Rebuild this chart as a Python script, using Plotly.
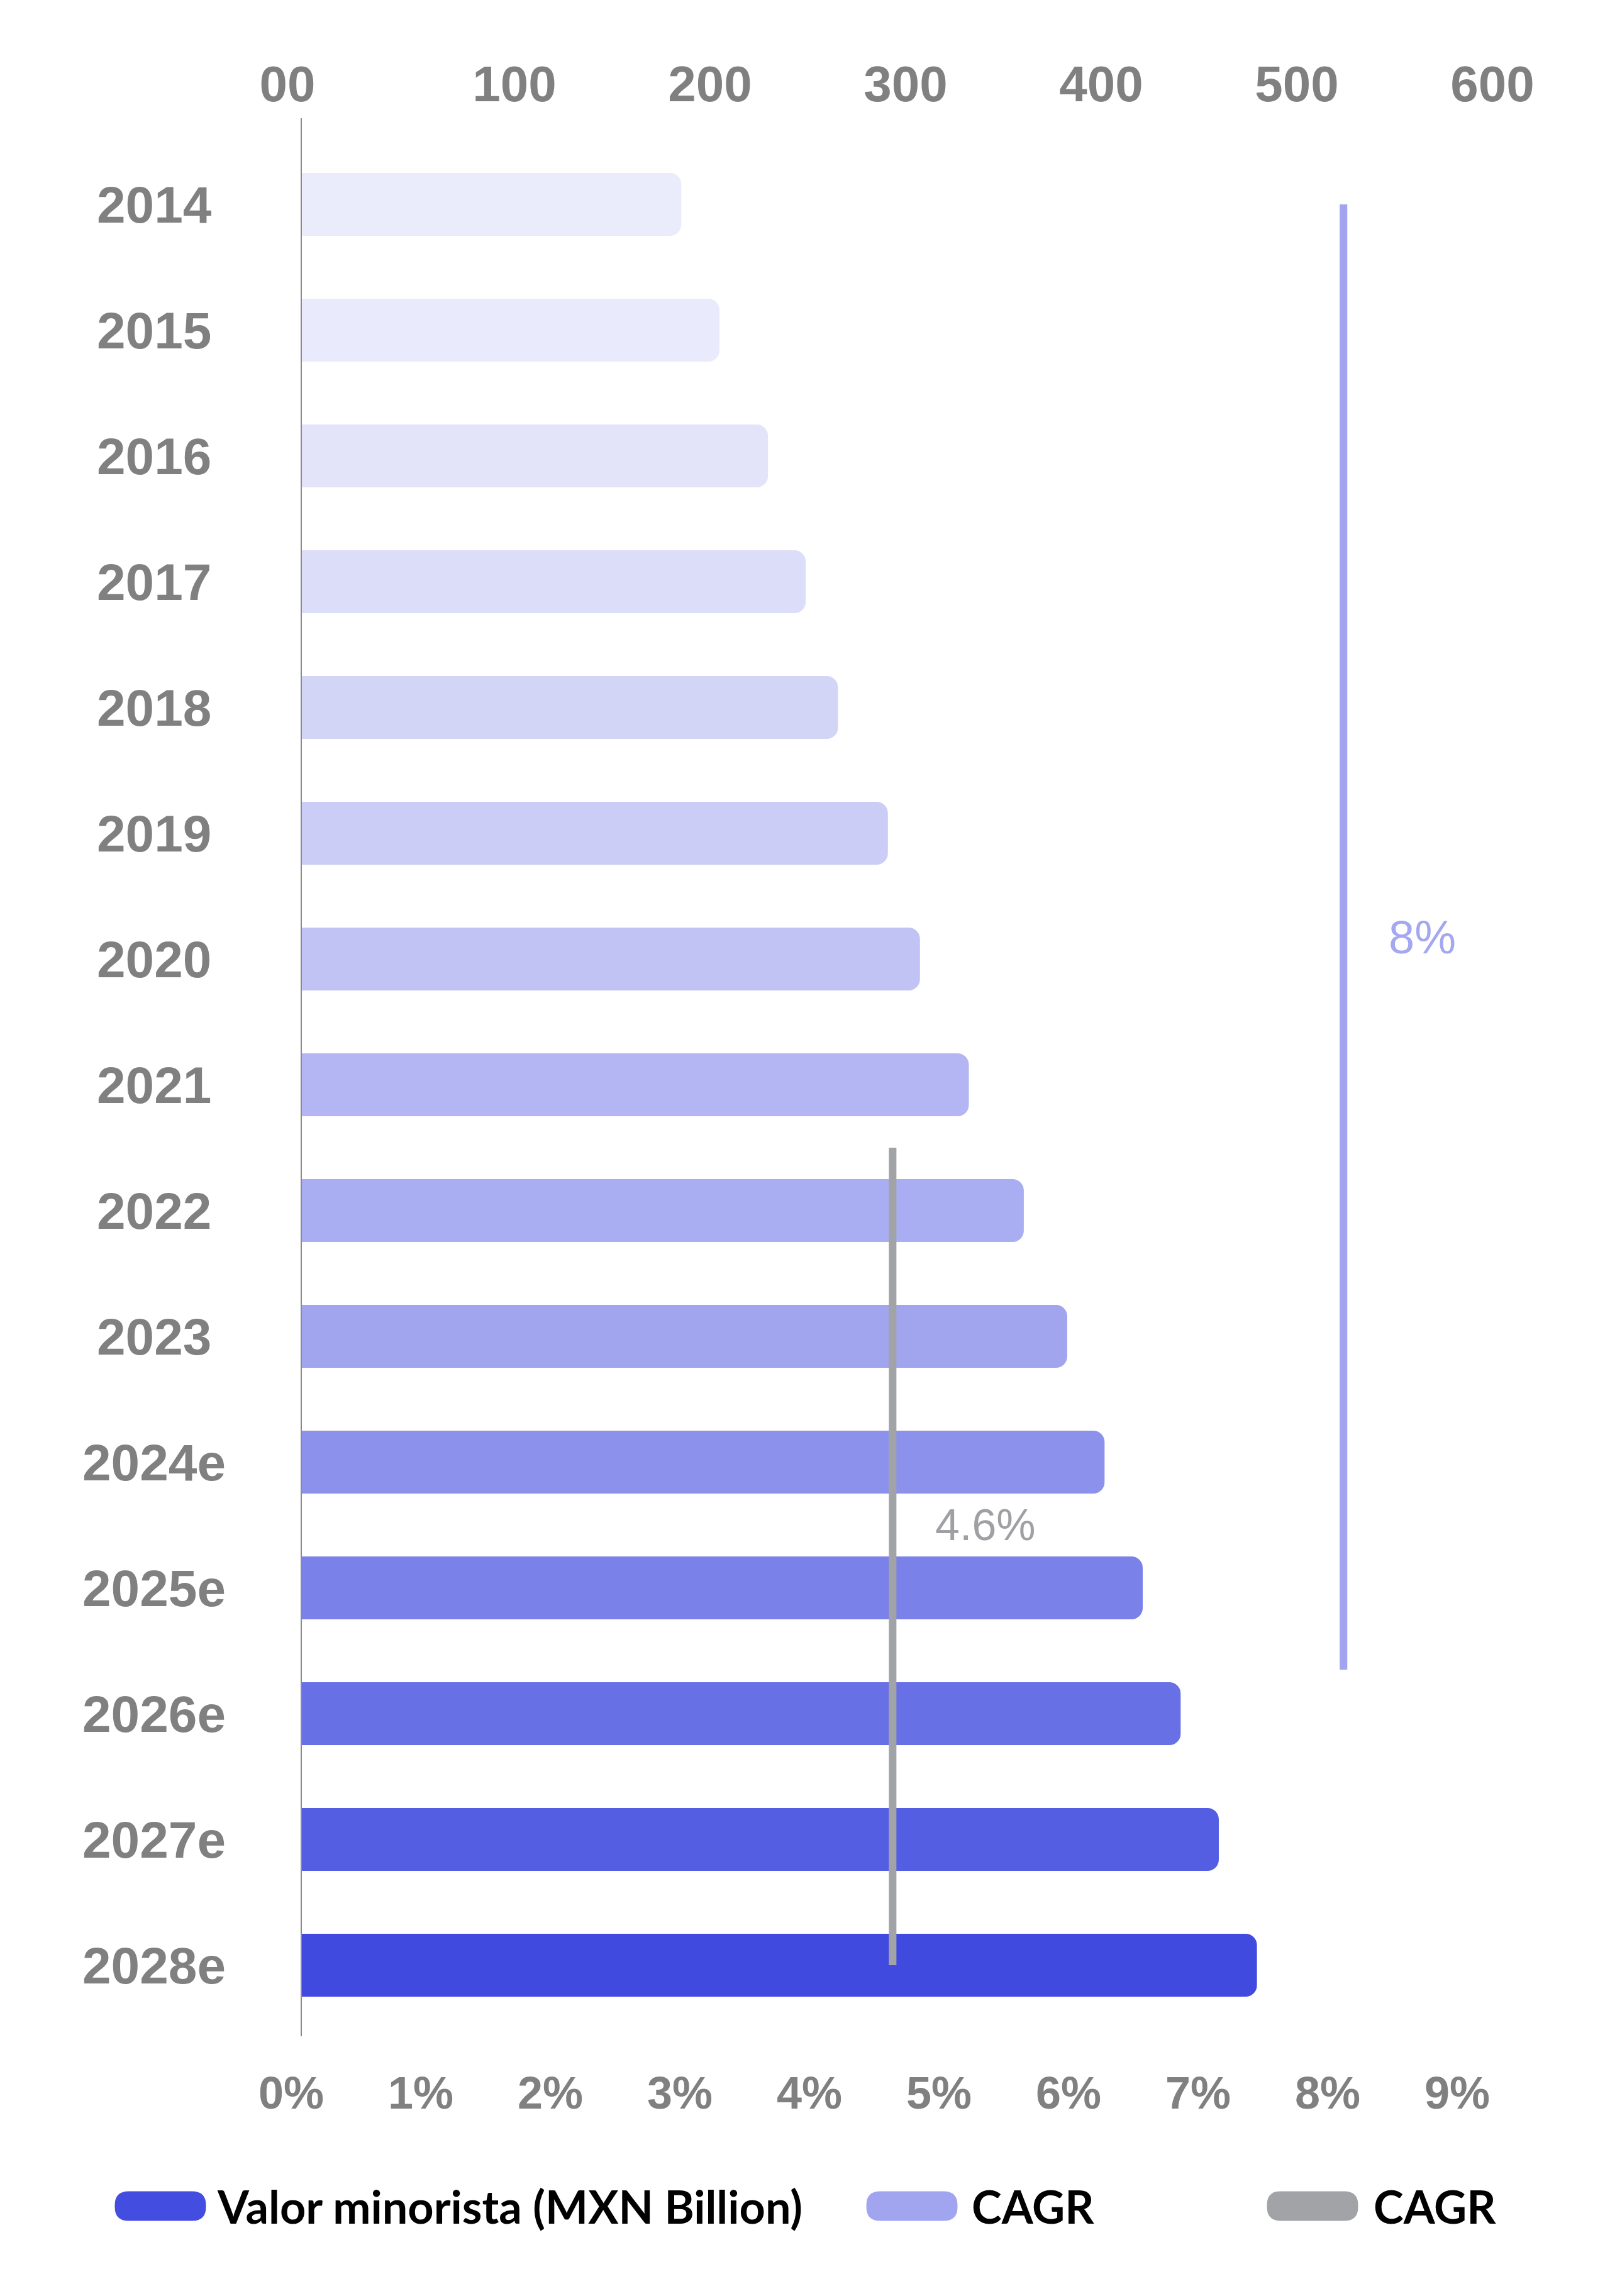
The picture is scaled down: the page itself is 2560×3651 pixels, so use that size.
import plotly.graph_objects as go

# ---------------- data ----------------
years = ["2014", "2015", "2016", "2017", "2018", "2019", "2020", "2021",
         "2022", "2023", "2024e", "2025e", "2026e", "2027e", "2028e"]
retail_value = [194.0, 213.5, 238.3, 257.6, 274.1, 299.6, 316.0, 341.0,
                369.1, 391.3, 410.4, 429.9, 449.3, 468.8, 488.3]
bar_colors = ["#ebecfb", "#e9eafb", "#e3e4f9", "#dcddf8", "#d3d5f7", "#cbcdf6",
              "#c1c3f4", "#b3b6f3", "#a9aef2", "#a1a5ee", "#8c92ec", "#7a81e8",
              "#6870e6", "#545ee3", "#414ade"]

value_ticks = [0, 100, 200, 300, 400, 500, 600]
value_tick_labels = ["00", "100", "200", "300", "400", "500", "600"]
pct_ticks = [0, 1, 2, 3, 4, 5, 6, 7, 8, 9]
pct_tick_labels = ["0%", "1%", "2%", "3%", "4%", "5%", "6%", "7%", "8%", "9%"]

cagr_values = [8.04, 4.56]          # position on the % axis
cagr_labels = ["8%", "4.6%"]
cagr_span_start = [0.0, 7.5]        # category index where each bracket starts
cagr_span_end = [11.65, 14.0]       # category index where each bracket ends
cagr_label_pos = [5.825, 10.5]
cagr_colors = ["#a1a5ef", "#a2a3a7"]
cagr_text_colors = ["#a4a8f0", "#a0a0a4"]

legend_names = ["Valor minorista (MXN Billion)", "CAGR", "CAGR"]
legend_colors = ["#434ddf", "#a1a5ef", "#a2a3a7"]

# ---------------- layout geometry (pixels) ----------------
OFF = 8                       # default page body margin
W, H = 2560 - OFF, 3651 - OFF
PLOT_L, PLOT_T, PW, PH = 480, 188, 1920, 3050   # in reference pixels
ML, MT = PLOT_L - OFF, PLOT_T - OFF
MR = W - ML - PW
MB = H - MT - PH
VALUE_PX = 3.11               # px per unit on value axis
PCT_PX = 206.0                # px per 1% on percent axis


def px_x(px):
    return (px - PLOT_L) / PW


def px_y(py):
    return (PLOT_T + PH - py) / PH


fig = go.Figure()

fig.add_trace(go.Bar(
    y=years, x=retail_value, orientation="h",
    marker=dict(color=bar_colors, line=dict(width=0), cornerradius=18),
    name=legend_names[0], showlegend=False, xaxis="x", yaxis="y",
    hoverinfo="x+y",
))

# invisible traces to activate the extra axes
fig.add_trace(go.Scatter(
    x=cagr_values, y=[years[0], years[-1]], mode="markers",
    marker=dict(opacity=0), showlegend=False, hoverinfo="skip",
    xaxis="x2", yaxis="y",
))
fig.add_trace(go.Scatter(
    x=[value_ticks[0]], y=[years[0]], mode="markers",
    marker=dict(opacity=0), showlegend=False, hoverinfo="skip",
    xaxis="x3", yaxis="y",
))

shapes = []
annotations = []

# CAGR bracket lines
for v, s, e, c in zip(cagr_values, cagr_span_start, cagr_span_end, cagr_colors):
    shapes.append(dict(type="line", xref="x2", yref="y", x0=v, x1=v, y0=s, y1=e,
                       line=dict(color=c, width=12), layer="above"))

label_shift = [70, 66]
label_size = [74, 70]
for v, lbl, pos, c, sh, sz in zip(cagr_values, cagr_labels, cagr_label_pos,
                                  cagr_text_colors, label_shift, label_size):
    annotations.append(dict(xref="x2", yref="y", x=v, y=pos, text=lbl,
                            showarrow=False, xanchor="left", yanchor="middle",
                            xshift=sh,
                            font=dict(family="Liberation Sans", size=sz, color=c)))

# category labels (centered)
for i, yr in enumerate(years):
    annotations.append(dict(xref="paper", yref="y", x=px_x(245), y=i, text=yr,
                            showarrow=False, xanchor="center", yanchor="middle",
                            font=dict(family="Liberation Sans", size=82,
                                      color="#808080", weight="bold")))

# manual legend with pill swatches
pill_centers = [255, 1450, 2087]
text_left = [343, 1543, 2182]
legend_y = 3508
pw, ph, r = 145, 47, 22
hw, hh = pw / 2, ph / 2
pill_path = (f"M{-hw + r},{-hh} L{hw - r},{-hh} Q{hw},{-hh} {hw},{-hh + r} "
             f"L{hw},{hh - r} Q{hw},{hh} {hw - r},{hh} L{-hw + r},{hh} "
             f"Q{-hw},{hh} {-hw},{hh - r} L{-hw},{-hh + r} Q{-hw},{-hh} {-hw + r},{-hh} Z")
for cx, tx, name, col in zip(pill_centers, text_left, legend_names, legend_colors):
    shapes.append(dict(type="path", xref="paper", yref="paper",
                       xsizemode="pixel", ysizemode="pixel",
                       xanchor=px_x(cx), yanchor=px_y(legend_y),
                       path=pill_path, fillcolor=col, line=dict(width=0)))
    annotations.append(dict(xref="paper", yref="paper", x=px_x(tx), y=px_y(legend_y),
                            text=name, showarrow=False, xanchor="left",
                            yanchor="middle",
                            font=dict(family="Lato", size=72, color="#000000",
                                      weight="bold")))

top_font = dict(family="Liberation Sans", size=80, color="#808080", weight="bold")
value_range = [0, PW / VALUE_PX]

fig.update_layout(
    width=W, height=H,
    margin=dict(l=ML, r=MR, t=MT, b=MB, pad=0),
    paper_bgcolor="white", plot_bgcolor="white",
    bargap=0.5,
    showlegend=False,
    xaxis=dict(side="top", range=value_range, tickvals=value_ticks[1:],
               ticktext=value_tick_labels[1:], showgrid=False, zeroline=False,
               showline=False, ticks="", ticklabelshift=27, ticklabelstandoff=10,
               tickfont=top_font, fixedrange=True),
    xaxis3=dict(side="top", overlaying="x", anchor="y", range=value_range,
                tickvals=value_ticks[:1], ticktext=value_tick_labels[:1],
                showgrid=False, zeroline=False, showline=False, ticks="",
                ticklabelshift=-23, ticklabelstandoff=10,
                tickfont=top_font, fixedrange=True),
    xaxis2=dict(side="bottom", overlaying="x", anchor="y",
                range=[0, PW / PCT_PX], tickvals=pct_ticks,
                ticktext=pct_tick_labels, showgrid=False, zeroline=False,
                showline=False, ticks="", ticklabelstandoff=42, ticklabelshift=-17,
                tickfont=dict(family="Liberation Sans", size=72, color="#808080",
                              weight="bold"),
                fixedrange=True),
    yaxis=dict(type="category", categoryorder="array", categoryarray=years,
               range=[14.565, -0.685], showticklabels=False, ticks="",
               showgrid=False, zeroline=False, showline=True,
               linecolor="#8a8a8a", linewidth=2, fixedrange=True),
    shapes=shapes,
    annotations=annotations,
)

fig.write_html("out.html")
